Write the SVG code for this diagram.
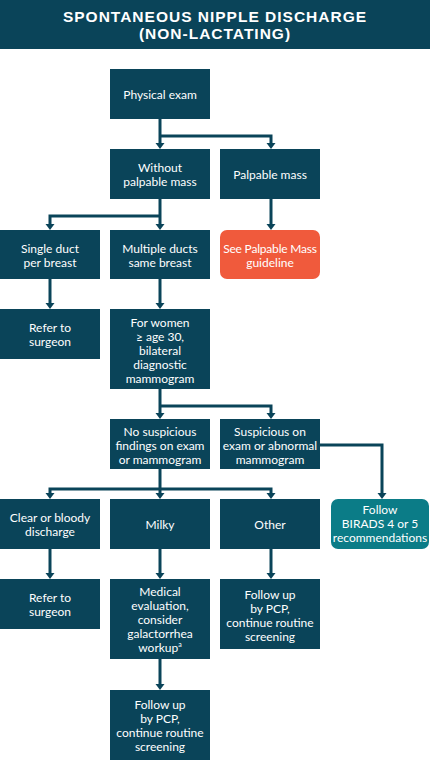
<svg xmlns="http://www.w3.org/2000/svg" width="430" height="776" viewBox="0 0 430 776">
<style>
.bg{fill:#ffffff}
.box{fill:#0a4459}
.orange{fill:#f05a3c}
.teal{fill:#0b7c87}
.t{font-family:Lato,"Open Sans","Liberation Sans",sans-serif;font-size:12px;fill:#ffffff;text-anchor:middle}
.title{font-family:"Liberation Sans",Arial,sans-serif;font-weight:bold;font-size:15.5px;fill:#ffffff;text-anchor:middle;letter-spacing:1px}
.c{fill:none;stroke:#0a4459;stroke-width:3}
</style>
<defs>
<marker id="ah" markerUnits="userSpaceOnUse" markerWidth="10" markerHeight="10" refX="1" refY="4.5" orient="auto">
<path d="M0,0 L6,4.5 L0,9 z" fill="#0a4459"/>
</marker>
</defs>
<rect class="bg" x="0" y="0" width="430" height="776"/>
<g id="title">
<rect x="0" y="0" width="430" height="49" fill="#0a4459"/>
<text class="title" x="215" y="22">SPONTANEOUS NIPPLE DISCHARGE</text>
<text class="title" x="215" y="39">(NON-LACTATING)</text>
</g>
<g id="connectors">
<path class="c" d="M160,119 V144" marker-end="url(#ah)"/>
<path class="c" d="M160,136 H271 V144" marker-end="url(#ah)"/>
<path class="c" d="M160,199 V225" marker-end="url(#ah)"/>
<path class="c" d="M160,216 H50 V225" marker-end="url(#ah)"/>
<path class="c" d="M271,199 V225" marker-end="url(#ah)"/>
<path class="c" d="M50,279 V304" marker-end="url(#ah)"/>
<path class="c" d="M160,279 V304" marker-end="url(#ah)"/>
<path class="c" d="M160,389 V414" marker-end="url(#ah)"/>
<path class="c" d="M160,406 H271 V414" marker-end="url(#ah)"/>
<path class="c" d="M320,445 H382 V494" marker-end="url(#ah)"/>
<path class="c" d="M160,469 V494" marker-end="url(#ah)"/>
<path class="c" d="M160,489 H271 V494" marker-end="url(#ah)"/>
<path class="c" d="M160,489 H50 V494" marker-end="url(#ah)"/>
<path class="c" d="M50,549 V574" marker-end="url(#ah)"/>
<path class="c" d="M160,549 V574" marker-end="url(#ah)"/>
<path class="c" d="M271,549 V574" marker-end="url(#ah)"/>
<path class="c" d="M160,659 V685" marker-end="url(#ah)"/>
</g>
<g id="n-physical">
<rect class="box" x="110" y="69" width="100" height="50"/>
<text class="t" x="160" y="98.5">Physical exam</text>
</g>
<g id="n-without">
<rect class="box" x="110" y="149" width="100" height="50"/>
<text class="t" x="160" y="172">Without</text>
<text class="t" x="160" y="186">palpable mass</text>
</g>
<g id="n-palpable">
<rect class="box" x="220" y="149" width="100" height="50"/>
<text class="t" x="270" y="178.5">Palpable mass</text>
</g>
<g id="n-single">
<rect class="box" x="0" y="230" width="100" height="49"/>
<text class="t" x="50" y="253">Single duct</text>
<text class="t" x="50" y="267">per breast</text>
</g>
<g id="n-multiple">
<rect class="box" x="110" y="230" width="100" height="49"/>
<text class="t" x="160" y="253">Multiple ducts</text>
<text class="t" x="160" y="267">same breast</text>
</g>
<g id="n-seepalpable">
<rect class="orange" x="220" y="230" width="100" height="49" rx="7"/>
<text class="t" x="270" y="253" letter-spacing="-0.2">See Palpable Mass</text>
<text class="t" x="270" y="267">guideline</text>
</g>
<g id="n-refer1">
<rect class="box" x="0" y="309" width="100" height="50"/>
<text class="t" x="50" y="332">Refer to</text>
<text class="t" x="50" y="346">surgeon</text>
</g>
<g id="n-women">
<rect class="box" x="110" y="309" width="100" height="80"/>
<text class="t" x="160" y="327">For women</text>
<text class="t" x="160" y="341">≥ age 30,</text>
<text class="t" x="160" y="355">bilateral</text>
<text class="t" x="160" y="369">diagnostic</text>
<text class="t" x="160" y="383">mammogram</text>
</g>
<g id="n-nosusp">
<rect class="box" x="110" y="419" width="100" height="50"/>
<text class="t" x="160" y="436">No suspicious</text>
<text class="t" x="160" y="450">findings on exam</text>
<text class="t" x="160" y="464">or mammogram</text>
</g>
<g id="n-susp">
<rect class="box" x="220" y="419" width="100" height="50"/>
<text class="t" x="270" y="436">Suspicious on</text>
<text class="t" x="270" y="450">exam or abnormal</text>
<text class="t" x="270" y="464">mammogram</text>
</g>
<g id="n-clear">
<rect class="box" x="0" y="499" width="100" height="50"/>
<text class="t" x="50" y="521.5">Clear or bloody</text>
<text class="t" x="50" y="535.5">discharge</text>
</g>
<g id="n-milky">
<rect class="box" x="110" y="499" width="100" height="50"/>
<text class="t" x="160" y="529">Milky</text>
</g>
<g id="n-other">
<rect class="box" x="220" y="499" width="100" height="50"/>
<text class="t" x="270" y="529">Other</text>
</g>
<g id="n-birads">
<rect class="teal" x="331" y="499" width="98" height="50" rx="7"/>
<text class="t" x="380" y="514">Follow</text>
<text class="t" x="380" y="528">BIRADS 4 or 5</text>
<text class="t" x="380" y="542">recommendations</text>
</g>
<g id="n-refer2">
<rect class="box" x="0" y="579" width="100" height="50"/>
<text class="t" x="50" y="602">Refer to</text>
<text class="t" x="50" y="616">surgeon</text>
</g>
<g id="n-medical">
<rect class="box" x="110" y="579" width="100" height="80"/>
<text class="t" x="160" y="596">Medical</text>
<text class="t" x="160" y="610">evaluation,</text>
<text class="t" x="160" y="624">consider</text>
<text class="t" x="160" y="638">galactorrhea</text>
<text class="t" x="160" y="652">workup<tspan font-size="7" dy="-5">a</tspan></text>
</g>
<g id="n-followup1">
<rect class="box" x="220" y="579" width="100" height="70"/>
<text class="t" x="270" y="599">Follow up</text>
<text class="t" x="270" y="613">by PCP,</text>
<text class="t" x="270" y="627">continue routine</text>
<text class="t" x="270" y="641">screening</text>
</g>
<g id="n-followup2">
<rect class="box" x="110" y="690" width="100" height="70"/>
<text class="t" x="160" y="709">Follow up</text>
<text class="t" x="160" y="723">by PCP,</text>
<text class="t" x="160" y="737">continue routine</text>
<text class="t" x="160" y="751">screening</text>
</g>
</svg>
